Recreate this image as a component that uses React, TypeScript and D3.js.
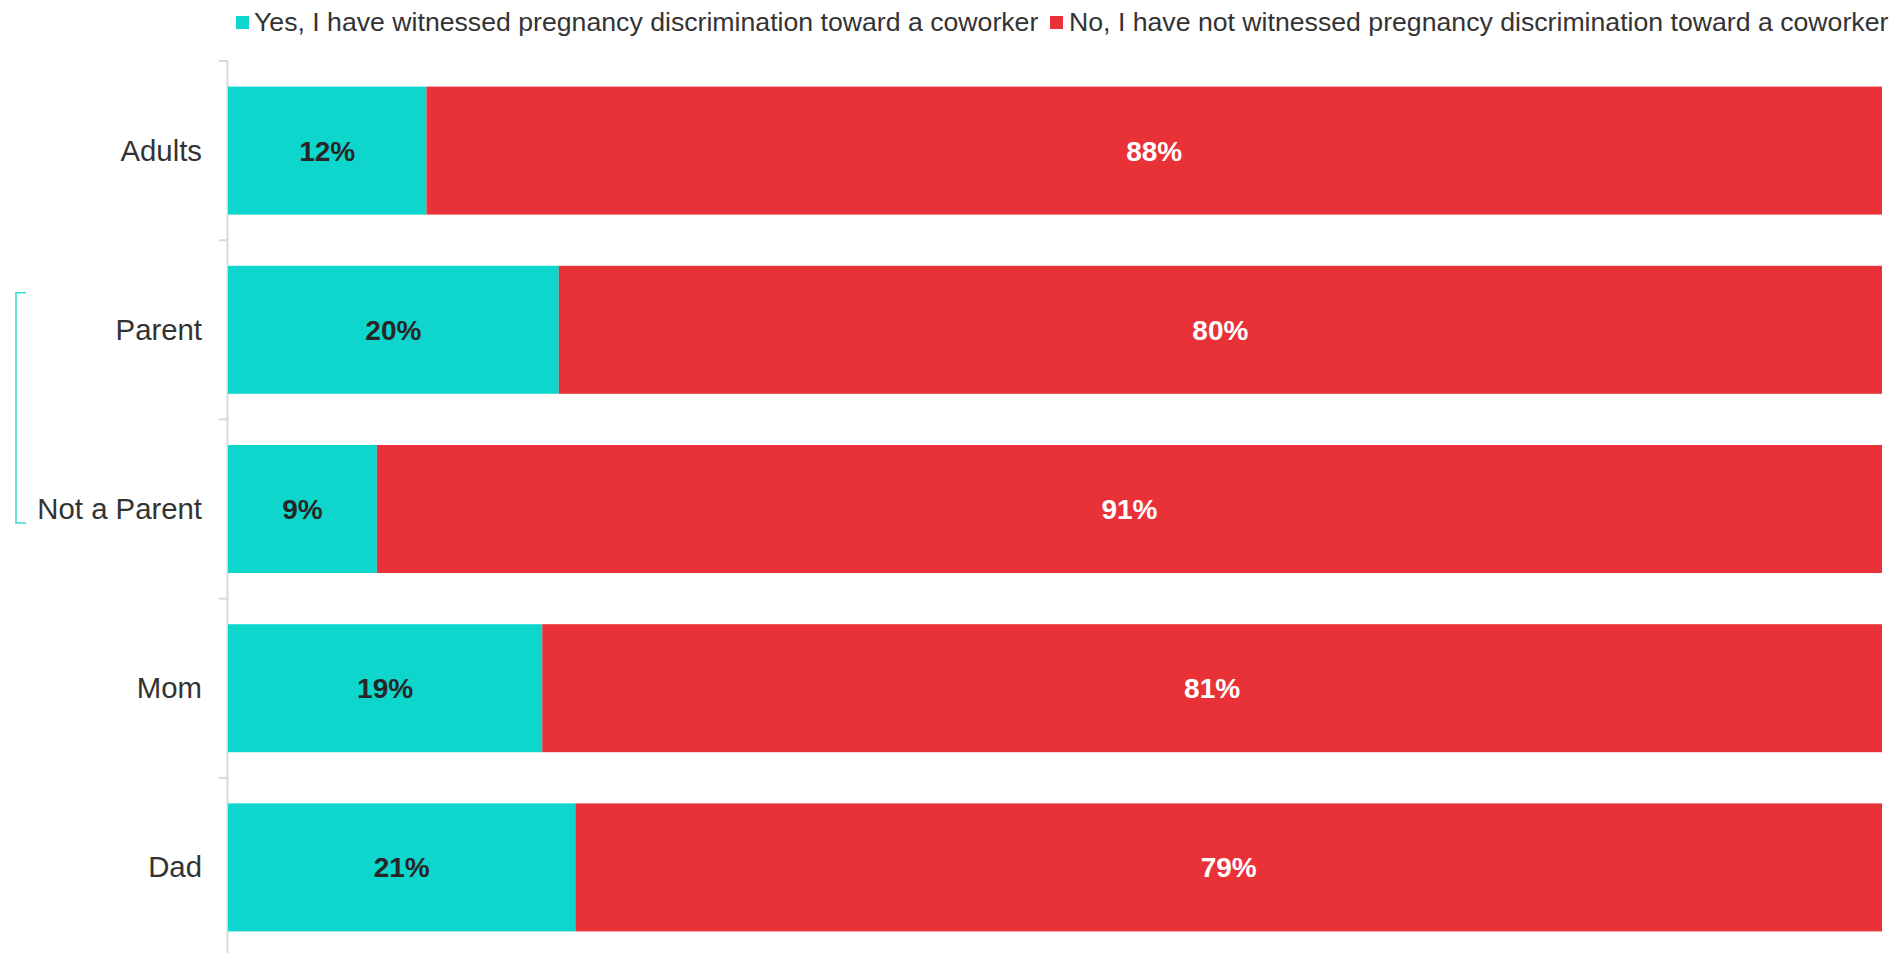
import * as d3 from 'd3';

const CATEGORIES = ['Adults', 'Parent', 'Not a Parent', 'Mom', 'Dad'];
const YES = [12, 20, 9, 19, 21];
const NO = [88, 80, 91, 81, 79];
const LEGEND = [
  'Yes, I have witnessed pregnancy discrimination toward a coworker',
  'No, I have not witnessed pregnancy discrimination toward a coworker',
];

const W = 1903, H = 953;
const CYAN = '#0ed6cc', RED = '#e83238';
const FONT = 'Arial, "Liberation Sans", Helvetica, sans-serif';
const X0 = 228, X1 = 1882, Y0 = 61, STEP = 179.2;

export default function App() {
  const x = d3.scaleLinear().domain([0, 100]).range([X0, X1]);
  const y = d3.scaleBand<string>().domain(CATEGORIES)
    .range([Y0, Y0 + STEP * CATEGORIES.length]).paddingInner(0.2857).paddingOuter(0.14285);
  const bw = y.bandwidth();
  const step = y.step();
  const pc = (c: string) => (y(c) ?? 0) + bw / 2;

  const rows = CATEGORIES.map((c, i) => ({ c, yes: YES[i], no: NO[i] }));
  const stack = d3.stack<{ c: string; yes: number; no: number }>().keys(['yes', 'no'])(rows);
  const colors = [CYAN, RED];
  const textColors = ['#262626', '#ffffff'];

  // legend measured positions
  const legendItems = [
    { sq: 236, tx: 254, color: CYAN, label: LEGEND[0] },
    { sq: 1050, tx: 1069, color: RED, label: LEGEND[1] },
  ];

  const bTop = pc('Parent') - 37;
  const bBot = pc('Not a Parent') + 14;

  return (
    <div style={{ position: 'absolute', left: 0, top: 0 }}>
      <svg width={W} height={H} viewBox={`0 0 ${W} ${H}`} style={{ display: 'block', fontFamily: FONT }}>
        <rect width={W} height={H} fill="#fff" />

        {/* legend */}
        {legendItems.map(l => (
          <g key={l.label}>
            <rect x={l.sq} y={16} width={13} height={13} fill={l.color} />
            <text x={l.tx} y={31} fontSize={26.67} fill="#333">{l.label}</text>
          </g>
        ))}

        {/* axis */}
        <line x1={X0 - 0.5} x2={X0 - 0.5} y1={Y0} y2={H} stroke="#d9d9d9" strokeWidth={2} />
        {CATEGORIES.map((_, i) => (
          <line key={i} x1={219} x2={X0} y1={Y0 + i * step} y2={Y0 + i * step} stroke="#d9d9d9" strokeWidth={2} />
        ))}

        {/* bars */}
        {stack.map((s, si) => (
          <g key={s.key}>
            {s.map(d => (
              <g key={d.data.c}>
                <rect x={x(d[0])} y={y(d.data.c)} width={x(d[1]) - x(d[0])} height={bw} fill={colors[si]} />
                <text x={(x(d[0]) + x(d[1])) / 2} y={pc(d.data.c) + 10} textAnchor="middle"
                  fontSize={28} fontWeight="bold" fill={textColors[si]}>
                  {d[1] - d[0]}%
                </text>
              </g>
            ))}
          </g>
        ))}

        {/* category labels */}
        {CATEGORIES.map(c => (
          <text key={c} x={202} y={pc(c) + 10} textAnchor="end" fontSize={29.33} fill="#333">{c}</text>
        ))}

        {/* bracket */}
        <path d={`M26,${bTop}H16V${bBot}H26`} fill="none" stroke="#3fd8cf" strokeWidth={1.6} />
      </svg>
    </div>
  );
}
